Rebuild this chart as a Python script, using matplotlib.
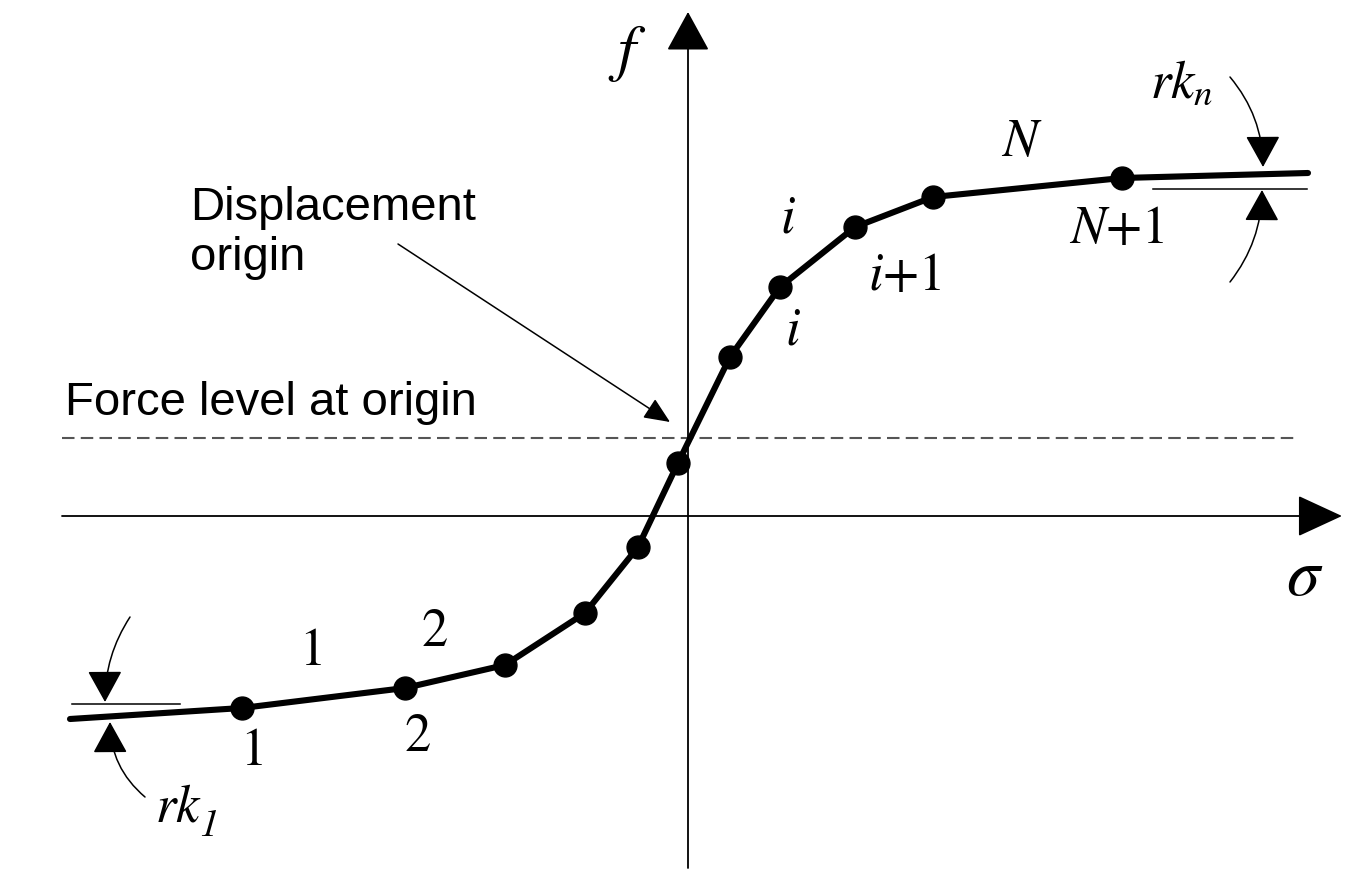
import matplotlib.pyplot as plt

plt.rcParams['mathtext.fontset'] = 'stix'

# multilinear force-displacement curve (displacement, force), origin at axes crossing
disp = [-618, -446, -283, -183, -103, -50, -10, 42, 92, 167, 245, 434, 620]
force = [-203, -192, -172, -149, -97, -31, 53, 159, 229, 289, 319, 338, 343]
force_origin = 78

fig = plt.figure(figsize=(13.59, 8.86), dpi=100)
ax = fig.add_axes([0, 0, 1, 1])
ax.set_xlim(-688, 671)
ax.set_ylim(-370, 516)
ax.axis('off')

# axes with arrow heads
ax.annotate('', xy=(654, 0), xytext=(-626, 0),
            arrowprops=dict(arrowstyle='-|>,head_length=28.8,head_width=13.3',
                            mutation_scale=1, lw=1.3, color='black',
                            shrinkA=0, shrinkB=0))
ax.annotate('', xy=(0, 504), xytext=(0, -352),
            arrowprops=dict(arrowstyle='-|>,head_length=25,head_width=13.7',
                            mutation_scale=1, lw=1.3, color='black',
                            shrinkA=0, shrinkB=0))

# force level at origin
ax.plot([-626, 610], [force_origin, force_origin], ls=(0, (6, 3)), lw=1.5, color='#555555')

# curve
ax.plot(disp, force, color='black', lw=4.4, solid_capstyle='round', zorder=3)
ax.plot(disp[1:-1], force[1:-1], 'o', color='black', ms=16.5, zorder=4)

# reference lines for residual stiffness
ax.plot([465, 619], [327, 327], color='black', lw=1.1)
ax.plot([-616, -508], [-188, -188], color='black', lw=1.1)

head = dict(arrowstyle='-|>,head_length=20,head_width=11', mutation_scale=1,
            lw=1.1, color='black', shrinkA=0, shrinkB=0)
ax.annotate('', xy=(575, 349), xytext=(542, 439),
            arrowprops=dict(connectionstyle='arc3,rad=-0.18', **head))
ax.annotate('', xy=(574, 326), xytext=(542, 234),
            arrowprops=dict(connectionstyle='arc3,rad=0.17', **head))
ax.annotate('', xy=(-583, -186), xytext=(-558, -101),
            arrowprops=dict(connectionstyle='arc3,rad=0.15', **head))
ax.annotate('', xy=(-578, -206), xytext=(-543, -281),
            arrowprops=dict(connectionstyle='arc3,rad=-0.23', **head))

# displacement origin pointer
ax.annotate('', xy=(-18, 94), xytext=(-290, 272),
            arrowprops=dict(arrowstyle='-|>,head_length=16,head_width=7',
                            mutation_scale=1, lw=1.1, color='black',
                            shrinkA=0, shrinkB=0))

serif = dict(family='STIXGeneral', fontsize=38, ha='center', va='center')
ax.text(-376, -136, '1', **serif)
ax.text(-435, -236, '1', **serif)
ax.text(-253, -117, '2', **serif)
ax.text(-270, -222, '2', **serif)
ax.text(100, 296, '$i$', **serif)
ax.text(105, 184, '$i$', **serif)
ax.text(217, 239, r'$i\mathrm{+1}$', **serif)
ax.text(334, 373, '$N$', **serif)
ax.text(429, 286, r'$N\mathrm{+1}$', **serif)
ax.text(462, 418, '$rk_n$', family='STIXGeneral', fontsize=38, ha='left', va='baseline')
ax.text(-533, -306, '$rk$', family='STIXGeneral', fontsize=38, ha='left', va='baseline')
ax.text(-479, -311, '1', family='STIXGeneral', fontstyle='italic', fontsize=28,
        ha='center', va='center')
ax.text(-61, 463, '$f$', family='STIXGeneral', fontsize=46, ha='center', va='center')
ax.text(617, -64, r'$\sigma$', family='STIXGeneral', fontsize=48, ha='center', va='center')

sans = dict(family='Liberation Sans', fontsize=34, ha='left', va='baseline')
ax.text(-498, 296, 'Displacement', **sans)
ax.text(-498, 246, 'origin', **sans)
ax.text(-623, 101, 'Force level at origin', **sans)

fig.savefig('out.png', dpi=100, facecolor='white')
